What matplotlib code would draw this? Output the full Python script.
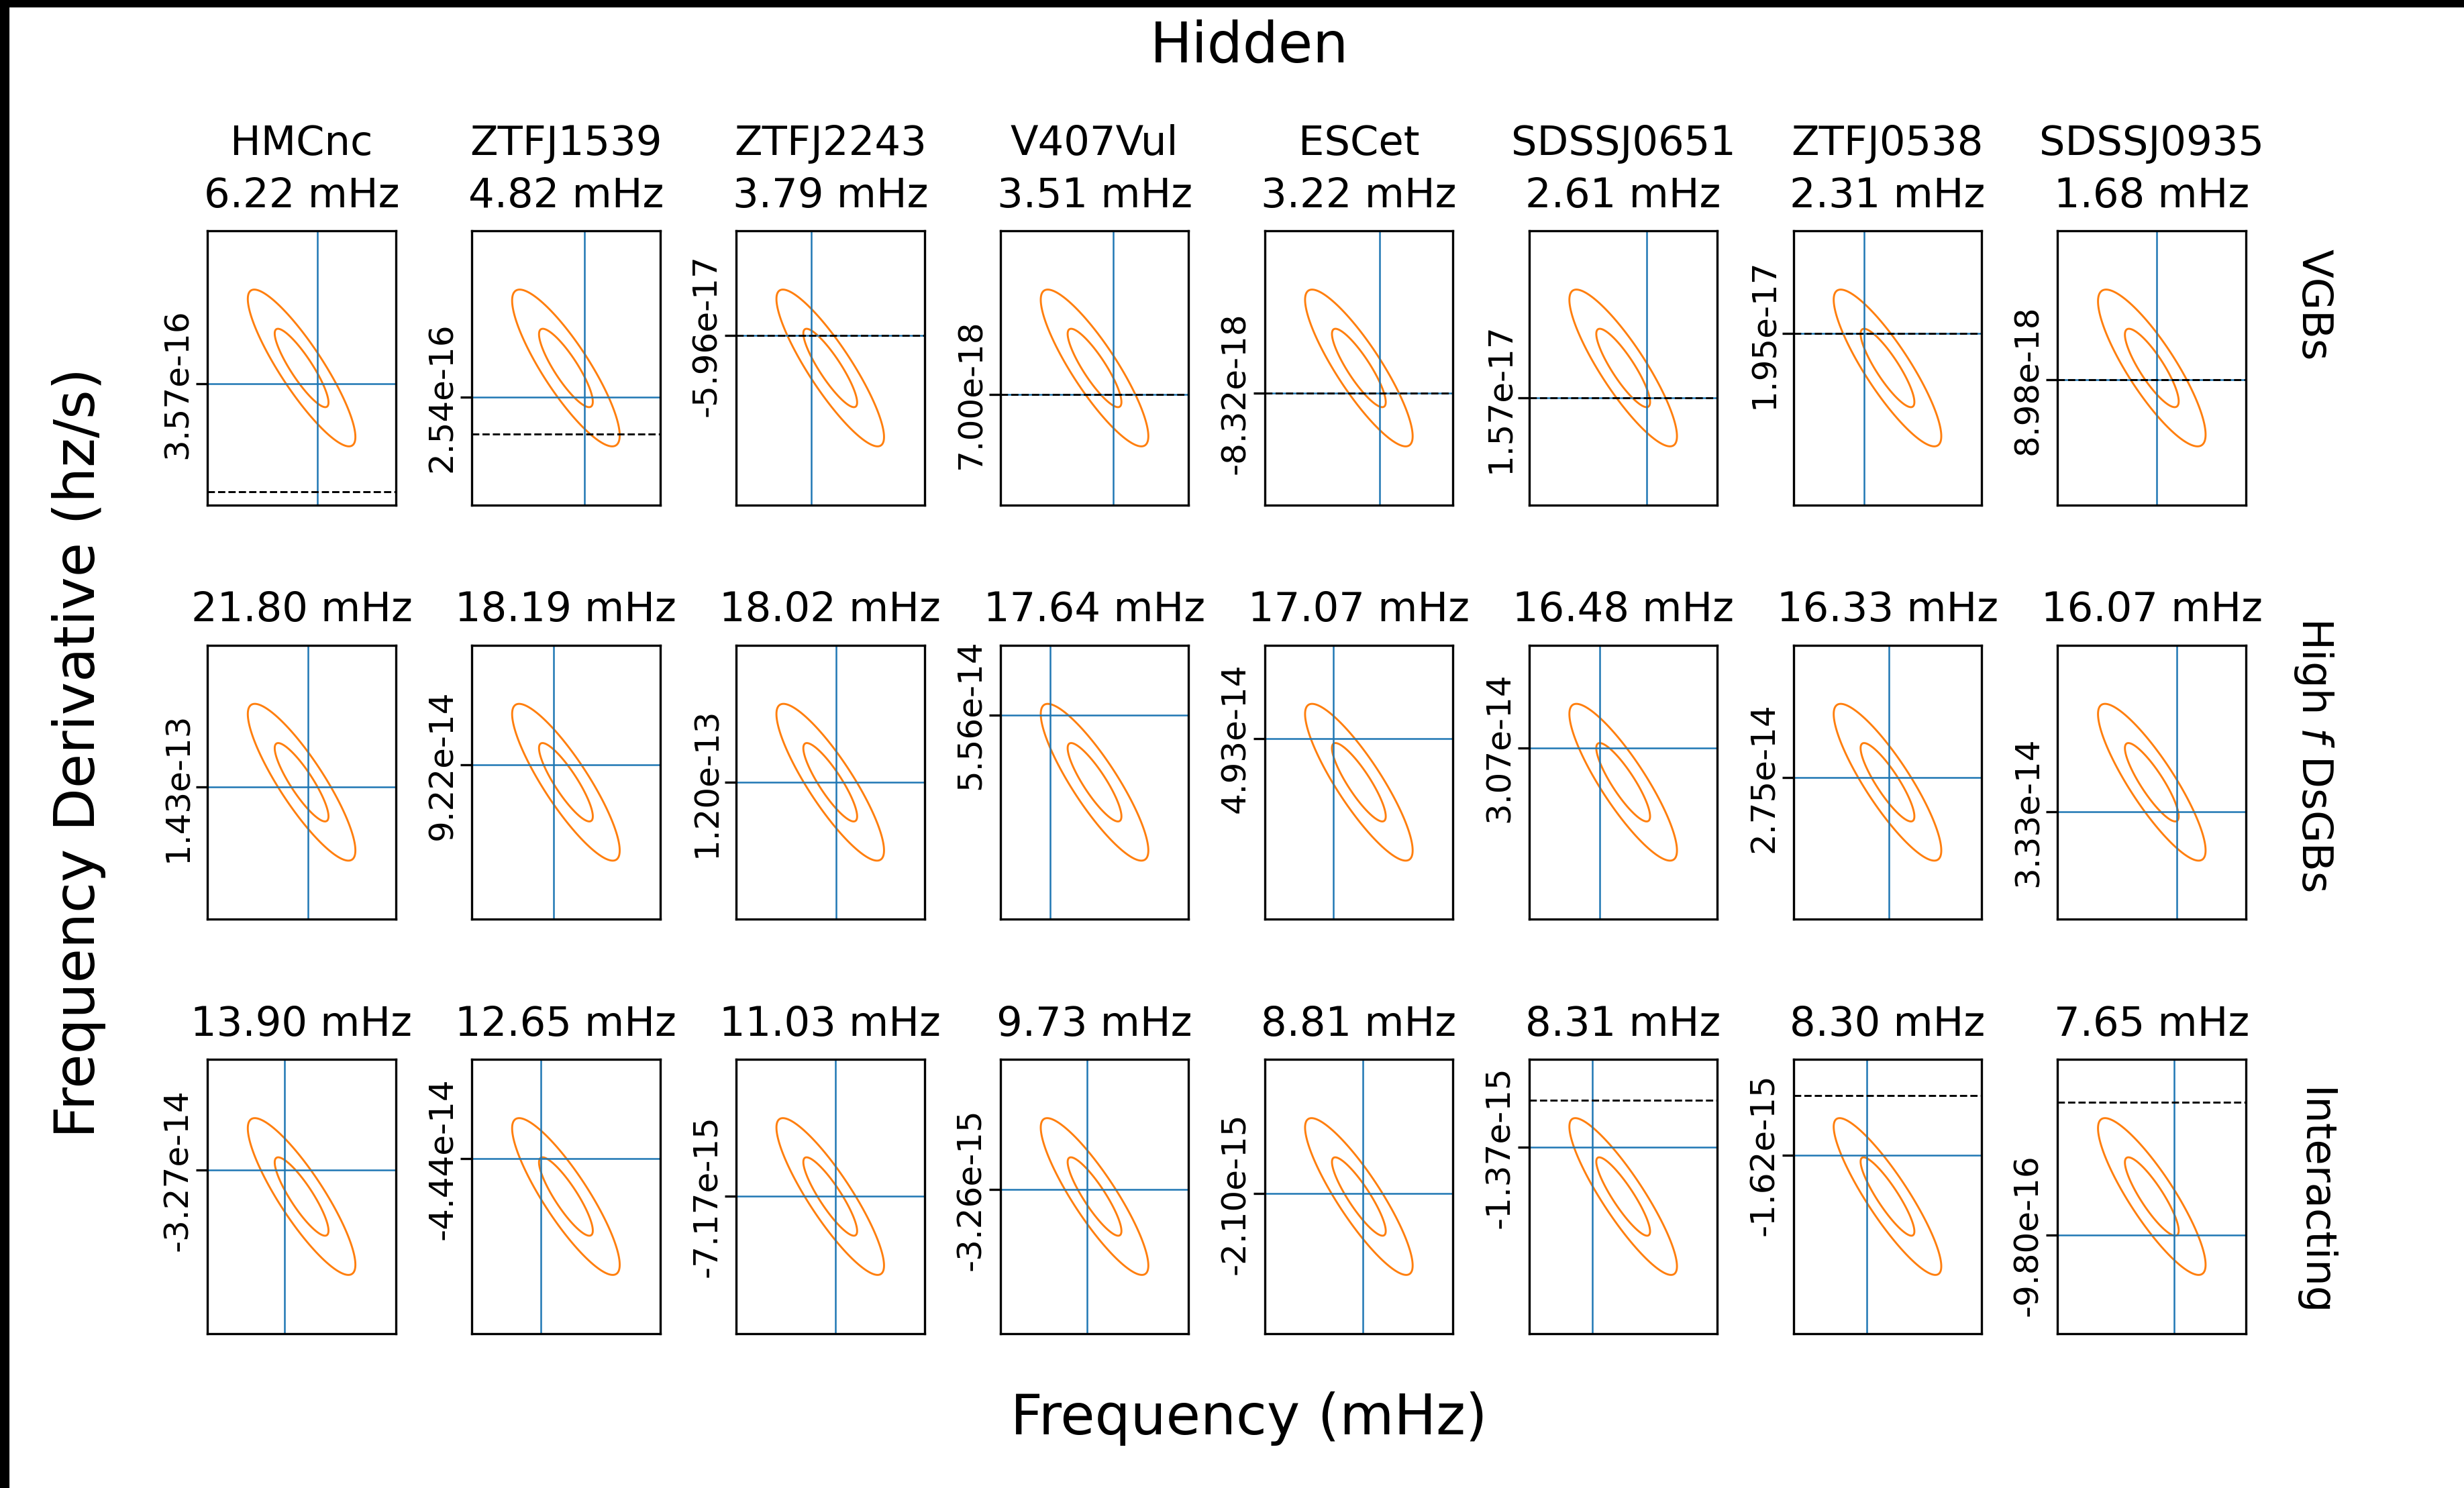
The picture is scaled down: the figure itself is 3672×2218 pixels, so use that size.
import matplotlib.pyplot as plt
import numpy as np
from matplotlib.patches import Rectangle

names = ['HMCnc', 'ZTFJ1539', 'ZTFJ2243', 'V407Vul', 'ESCet', 'SDSSJ0651', 'ZTFJ0538', 'SDSSJ0935']
row_labels = ['VGBs', 'High $f$ DsGBs', 'Interacting']

# injected frequencies (mHz)
freq_vgb = [6.22, 4.82, 3.79, 3.51, 3.22, 2.61, 2.31, 1.68]
freq_high = [21.80, 18.19, 18.02, 17.64, 17.07, 16.48, 16.33, 16.07]
freq_int = [13.90, 12.65, 11.03, 9.73, 8.81, 8.31, 8.30, 7.65]

# injected frequency derivatives (Hz/s)
fdot_vgb = [3.57e-16, 2.54e-16, -5.96e-17, 7.00e-18, -8.32e-18, 1.57e-17, 1.95e-17, 8.98e-18]
fdot_high = [1.43e-13, 9.22e-14, 1.20e-13, 5.56e-14, 4.93e-14, 3.07e-14, 2.75e-14, 3.33e-14]
fdot_int = [-3.27e-14, -4.44e-14, -7.17e-15, -3.26e-15, -2.10e-15, -1.37e-15, -1.62e-15, -9.80e-16]

# model (GR) frequency derivative, nan where not available
fdot_model_vgb = [2.88e-16, 2.255e-16, -5.96e-17, 7.00e-18, -8.32e-18, 1.57e-17, 1.95e-17, 8.98e-18]
fdot_model_high = [np.nan] * 8
fdot_model_int = [np.nan, np.nan, np.nan, np.nan, np.nan, -1.25e-15, -1.468e-15, -7.09e-16]

# posterior widths: frequency (nHz) and frequency derivative (Hz/s)
fsig_vgb = [1.1, 0.9, 0.8, 0.7, 0.7, 0.5, 0.6, 0.4]
fsig_high = [2.4, 2.1, 2.2, 2.0, 1.9, 1.8, 1.8, 1.7]
fsig_int = [1.6, 1.5, 1.3, 1.2, 1.1, 1.0, 1.0, 0.9]
dsig_vgb = [2.5e-17, 3.0e-17, 1.2e-17, 4.0e-18, 5.0e-18, 3.0e-18, 4.0e-18, 6.0e-18]
dsig_high = [4.1e-15, 3.3e-15, 3.0e-15, 2.6e-15, 2.4e-15, 2.0e-15, 1.9e-15, 1.8e-15]
dsig_int = [1.5e-15, 1.2e-15, 7.0e-16, 3.1e-16, 2.2e-16, 1.0e-16, 1.0e-16, 8.0e-17]

# (posterior mean - injected) / sigma
fpull_vgb = [-0.58, -0.68, 0.70, -0.69, -0.76, -0.88, 0.88, -0.18]
fpull_high = [-0.23, 0.47, -0.23, 1.64, 0.94, 0.88, -0.06, -0.94]
fpull_int = [0.64, 0.94, -0.20, 0.27, -0.15, 1.14, 0.76, -0.83]
dpull_vgb = [0.40, 0.74, -0.83, 0.67, 0.65, 0.76, -0.88, 0.30]
dpull_high = [0.12, -0.44, 0.0, -1.72, -1.12, -0.88, -0.12, 0.76]
dpull_int = [-0.68, -0.96, -0.01, -0.18, -0.07, -1.26, -1.06, 0.99]

# f - fdot correlation
rho_vgb = [-0.88, -0.86, -0.88, -0.87, -0.87, -0.87, -0.87, -0.85]
rho_high = [-0.87, -0.87, -0.87, -0.87, -0.87, -0.87, -0.87, -0.87]
rho_int = [-0.87, -0.87, -0.88, -0.88, -0.88, -0.89, -0.89, -0.87]

freqs = [freq_vgb, freq_high, freq_int]
fdots = [fdot_vgb, fdot_high, fdot_int]
models = [fdot_model_vgb, fdot_model_high, fdot_model_int]
fsigs = [fsig_vgb, fsig_high, fsig_int]
dsigs = [dsig_vgb, dsig_high, dsig_int]
fpulls = [fpull_vgb, fpull_high, fpull_int]
dpulls = [dpull_vgb, dpull_high, dpull_int]
rhos = [rho_vgb, rho_high, rho_int]

fig, axes = plt.subplots(3, 8, figsize=(3672 / 300, 2218 / 300), dpi=300)
fig.subplots_adjust(left=0.0842, right=0.9115, bottom=0.1037, top=0.8449,
                    wspace=0.404, hspace=0.51)

win = 3.5
u = np.linspace(-win, win, 300)
U, V = np.meshgrid(u, u)

for r in range(3):
    for c in range(8):
        ax = axes[r, c]
        f0 = freqs[r][c]
        fd0 = fdots[r][c]
        sf = fsigs[r][c] * 1e-6  # nHz -> mHz
        sd = dsigs[r][c]
        mf = f0 + fpulls[r][c] * sf
        md = fd0 + dpulls[r][c] * sd
        rho = rhos[r][c]

        q = (U**2 - 2 * rho * U * V + V**2) / (1 - rho**2)
        ax.contour(mf + U * sf, md + V * sd, np.exp(-0.5 * q),
                   levels=[np.exp(-2.0), np.exp(-0.5)], colors='C1', linewidths=0.7)
        ax.axvline(f0, color='C0', lw=0.6)
        ax.axhline(fd0, color='C0', lw=0.6)
        if np.isfinite(models[r][c]):
            ax.axhline(models[r][c], color='k', ls='--', lw=0.7)

        ax.set_xlim(mf - win * sf, mf + win * sf)
        ax.set_ylim(md - win * sd, md + win * sd)
        ax.set_xticks([])
        ax.set_yticks([fd0], labels=[f'{fd0:.2e}'])
        ax.tick_params(axis='y', labelsize=12, length=4, pad=0.8)
        plt.setp(ax.get_yticklabels(), rotation=90, va='center')

        if r == 0:
            ax.set_title(f'{names[c]}\n{f0:.2f} mHz', fontsize=14.6, linespacing=1.4, pad=8.5)
        else:
            ax.set_title(f'{f0:.2f} mHz', fontsize=14.6, pad=8.5)

fig.text(0.507, 0.969, 'Hidden', ha='center', va='center', fontsize=20)
fig.text(0.507, 0.0465, 'Frequency (mHz)', ha='center', va='center', fontsize=20)
fig.text(0.032, 0.494, 'Frequency Derivative (hz/s)', ha='center', va='center',
         rotation=90, fontsize=20)
for label, y in zip(row_labels, [0.795, 0.493, 0.192]):
    fig.text(0.939, y, label, ha='center', va='center', rotation=270, fontsize=15)

# dark edges along the left and top
fig.patches.append(Rectangle((0, 0), 12 / 3672, 1, transform=fig.transFigure,
                             color='k', zorder=10))
fig.patches.append(Rectangle((0, 1 - 9 / 2218), 1, 9 / 2218, transform=fig.transFigure,
                             color='k', zorder=10))

fig.savefig('out.png', dpi=300)
